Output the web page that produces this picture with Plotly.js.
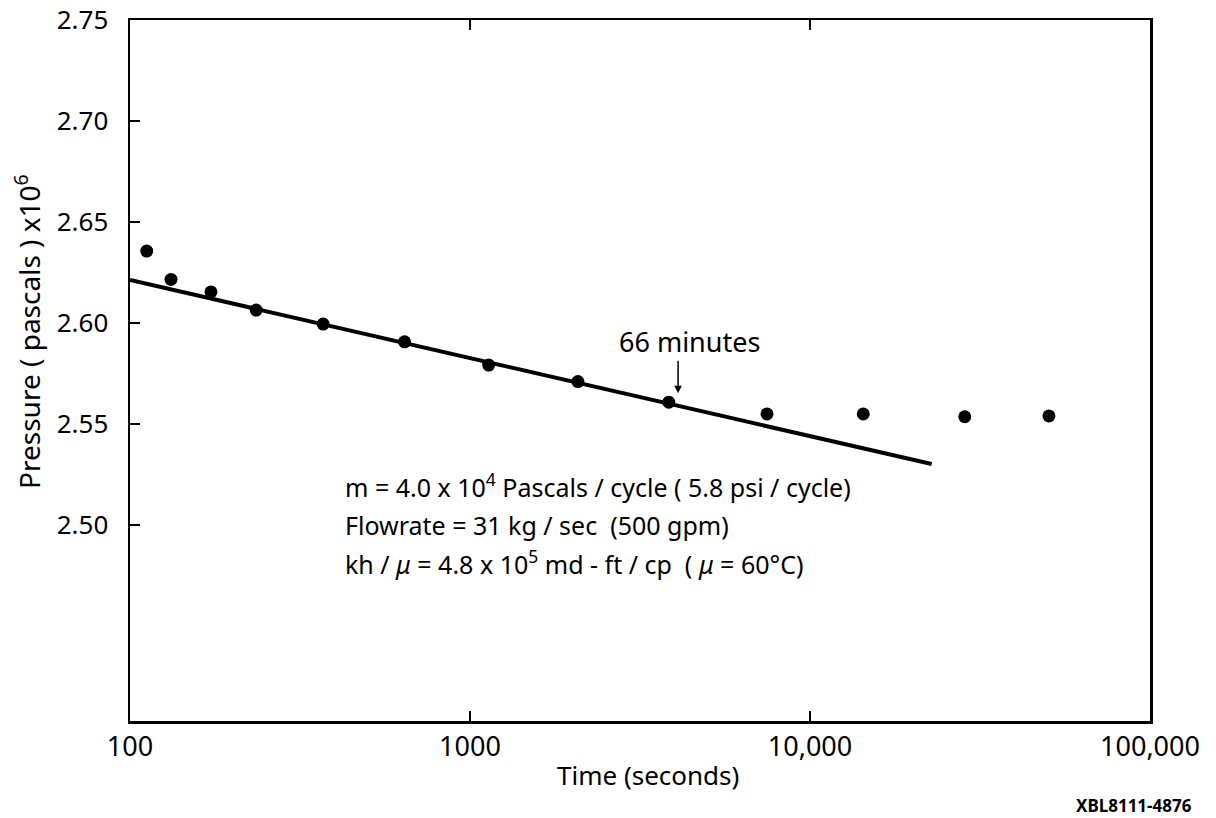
<!DOCTYPE html>
<html>
<head>
<meta charset="utf-8">
<script src="https://cdn.plot.ly/plotly-3.0.1.min.js"></script>
<style>html,body{margin:0;padding:0;background:#fff;}#chart{width:1216px;height:818px;}</style>
</head>
<body>
<div id="chart"></div>
<script>
// Measured points: time (s) and pressure (pascals x 10^6)
const timeSec = [112, 132, 173, 235, 370, 642, 1135, 2077, 3843, 7474, 14340, 28520, 50430];
const pressure = [2.6356, 2.6216, 2.6154, 2.6064, 2.5995, 2.5907, 2.5792, 2.5710, 2.5608, 2.5550, 2.5550, 2.5536, 2.5540];
// Fitted semilog straight line (end points)
const fitTime = [100, 22790];
const fitPressure = [2.6213, 2.5302];
// Axis ticks
const xTickVals = [100, 1000, 10000, 100000];
const xTickText = ['100', '1000', '10,000', '100,000'];
const yTickVals = [2.50, 2.55, 2.60, 2.65, 2.70, 2.75];
const yTickText = ['2.50', '2.55', '2.60', '2.65', '2.70', '2.75'];
// Annotation marker: 66 minutes
const markTime = 4093, markPressure = 2.5653;

const FONT = 'Noto Sans, DejaVu Sans, sans-serif';

const traces = [
  {x: fitTime, y: fitPressure, mode: 'lines', type: 'scatter',
   line: {color: '#000', width: 4}, hoverinfo: 'skip'},
  {x: timeSec, y: pressure, mode: 'markers', type: 'scatter',
   marker: {color: '#000', size: 13}}
];

const layout = {
  width: 1216, height: 818,
  margin: {l: 130, r: 66, t: 20, b: 97},
  paper_bgcolor: '#fff', plot_bgcolor: '#fff',
  showlegend: false,
  font: {family: FONT, color: '#000', size: 26},
  xaxis: {
    type: 'log', range: [2, 5],
    tickvals: xTickVals, ticktext: xTickText,
    ticks: 'inside', ticklen: 10, tickwidth: 2, tickcolor: '#000',
    showline: true, linecolor: '#000', linewidth: 2.5, mirror: 'ticks',
    showgrid: false, zeroline: false,
    tickfont: {size: 27, family: FONT, color: '#000'}
  },
  yaxis: {
    range: [2.403, 2.75],
    tickvals: yTickVals, ticktext: yTickText,
    ticks: 'inside', ticklen: 10, tickwidth: 2, tickcolor: '#000',
    showline: true, linecolor: '#000', linewidth: 2.5, mirror: true,
    showgrid: false, zeroline: false,
    ticklabelstandoff: 14,
    tickfont: {size: 26, family: FONT, color: '#000'}
  },
  annotations: [
    {xref: 'paper', yref: 'paper', x: -0.1, y: 0.555, textangle: -90,
     text: 'Pressure ( pascals ) x10<sup>6</sup>', showarrow: false,
     xanchor: 'center', yanchor: 'middle', font: {size: 28}},
    {xref: 'paper', yref: 'paper', x: 0.508, y: -0.077,
     text: 'Time (seconds)', showarrow: false,
     xanchor: 'center', yanchor: 'middle', font: {size: 26}},
    {xref: 'paper', yref: 'paper', x: 0.549, y: 0.542,
     text: '66 minutes', showarrow: false,
     xanchor: 'center', yanchor: 'middle', font: {size: 27}},
    {x: Math.log10(markTime), y: markPressure, text: '', showarrow: true,
     ax: 0, ay: -34, arrowhead: 2, arrowsize: 1, arrowwidth: 1.5, arrowcolor: '#000'},
    {xref: 'paper', yref: 'paper', x: 0.2088, y: 0.336,
     text: 'm = 4.0 x 10<sup>4</sup> Pascals / cycle ( 5.8 psi / cycle)', showarrow: false,
     xanchor: 'left', yanchor: 'middle', font: {size: 25}},
    {xref: 'paper', yref: 'paper', x: 0.2088, y: 0.2796,
     text: 'Flowrate = 31 kg / sec  (500 gpm)', showarrow: false,
     xanchor: 'left', yanchor: 'middle', font: {size: 25}},
    {xref: 'paper', yref: 'paper', x: 0.2088, y: 0.2268,
     text: 'kh / <i>\u03bc</i> = 4.8 x 10<sup>5</sup> md - ft / cp  ( <i>\u03bc</i> = 60\u00b0C)', showarrow: false,
     xanchor: 'left', yanchor: 'middle', font: {size: 25}},
    {xref: 'paper', yref: 'paper', x: 1.0431, y: -0.121,
     text: '<b>XBL8111-4876</b>', showarrow: false,
     xanchor: 'right', yanchor: 'middle', font: {size: 17}}
  ]
};

Plotly.newPlot('chart', traces, layout, {displayModeBar: false, staticPlot: true});
</script>
</body>
</html>
